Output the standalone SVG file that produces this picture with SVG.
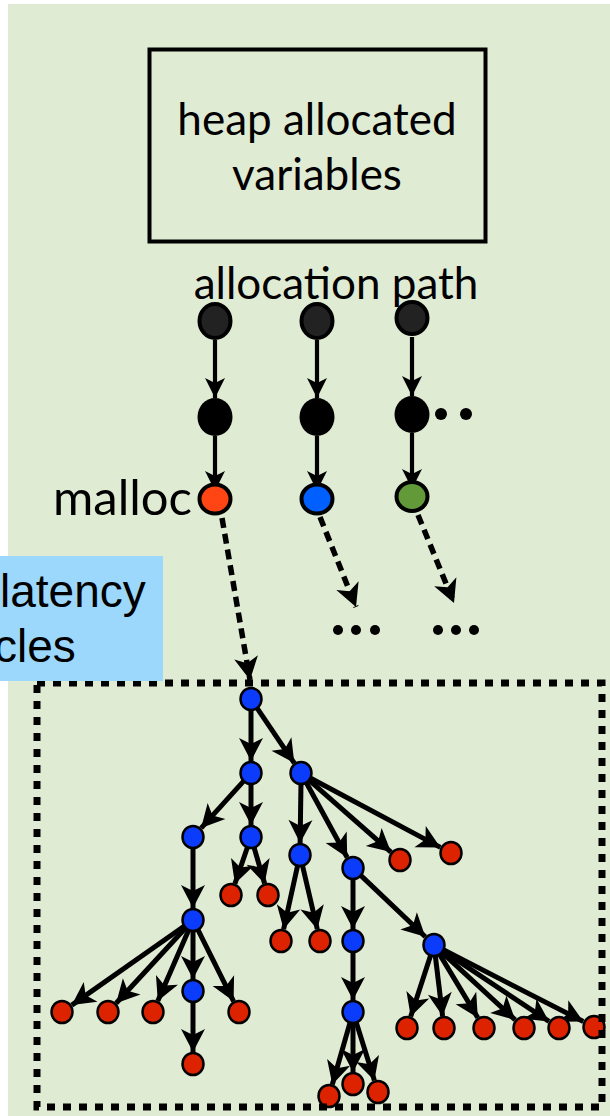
<svg xmlns="http://www.w3.org/2000/svg" width="610" height="1116" viewBox="0 0 610 1116">
<defs>
<style>
.t{font-family:"Lato","Liberation Sans",sans-serif;fill:#000}
.a{font-family:"Liberation Sans",Arial,sans-serif;fill:#000}
.e{stroke:#000;stroke-width:5;fill:none;marker-end:url(#ah)}
.p{stroke:#000;stroke-width:4.2;fill:none;marker-end:url(#ap)}
.d{stroke:#000;stroke-width:5.5;fill:none;stroke-dasharray:10 6;marker-end:url(#ah)}
.bn{fill:#0b3cfc;stroke:#000;stroke-width:2.5}
.rn{fill:#dd2200;stroke:#000;stroke-width:2.5}
</style>
<marker id="ah" markerUnits="userSpaceOnUse" viewBox="-24 -13 26 26" refX="0" refY="0" markerWidth="26" markerHeight="26" orient="auto">
<path d="M0,0 L-23,-12 L-17,0 L-23,12 Z" fill="#000"/>
</marker>
<marker id="ap" markerUnits="userSpaceOnUse" viewBox="-22 -11 24 22" refX="0" refY="0" markerWidth="24" markerHeight="22" orient="auto">
<path d="M0,0 L-20,-10 L-15,0 L-20,10 Z" fill="#000"/>
</marker>
</defs>
<rect x="8" y="4" width="602" height="1112" fill="#e0ebd4"/>

<g id="heap-box">
<rect x="149.5" y="49.5" width="336" height="192" fill="none" stroke="#000" stroke-width="4"/>
<text class="t" x="317" y="135" font-size="44" text-anchor="middle">heap allocated</text>
<text class="t" x="317" y="190" font-size="44" text-anchor="middle">variables</text>
</g>

<g id="label-allocation-path">
<text class="t" x="336" y="299" font-size="44" text-anchor="middle">allocation path</text>
</g>
<g id="label-malloc">
<text class="t" x="192" y="515" font-size="49" text-anchor="end">malloc</text>
</g>

<g id="connectors">
<line class="p" x1="215" y1="340" x2="215" y2="398"/>
<line class="p" x1="215" y1="436" x2="215" y2="491"/>
<line class="p" x1="317" y1="340" x2="317" y2="398"/>
<line class="p" x1="317" y1="436" x2="317" y2="491"/>
<line class="p" x1="412" y1="337" x2="412" y2="396"/>
<line class="p" x1="412" y1="433" x2="412" y2="489"/>
<line class="d" x1="222" y1="518" x2="250" y2="680"/>
<line class="d" x1="320" y1="517" x2="356" y2="607"/>
<line class="d" x1="418" y1="515" x2="454" y2="603"/>

<line class="e" x1="251" y1="709" x2="251" y2="761"/>
<line class="e" x1="256.6" y1="707.3" x2="294.3" y2="763.1"/>
<line class="e" x1="244.3" y1="780.4" x2="201.1" y2="828.1"/>
<line class="e" x1="251" y1="783" x2="251" y2="825"/>
<line class="e" x1="301" y1="783" x2="300.1" y2="843"/>
<line class="e" x1="305.8" y1="781.8" x2="347.2" y2="857.5"/>
<line class="e" x1="308.5" y1="779.6" x2="391" y2="852.1"/>
<line class="e" x1="309.8" y1="777.7" x2="440.4" y2="847.4"/>
<line class="e" x1="193" y1="847" x2="193" y2="908"/>
<line class="e" x1="247.7" y1="846.5" x2="234.9" y2="883.7"/>
<line class="e" x1="253.8" y1="846.6" x2="264.6" y2="883.5"/>
<line class="e" x1="297.8" y1="864.8" x2="283.6" y2="929.3"/>
<line class="e" x1="302.3" y1="864.7" x2="317.3" y2="929.3"/>
<line class="e" x1="353" y1="878" x2="353" y2="929"/>
<line class="e" x1="360.2" y1="874.9" x2="425.3" y2="936.7"/>
<line class="e" x1="353" y1="951" x2="353" y2="1000"/>
<line class="e" x1="184.8" y1="925.7" x2="71.8" y2="1005.1"/>
<line class="e" x1="186.2" y1="927.3" x2="116.1" y2="1003.2"/>
<line class="e" x1="189" y1="929.2" x2="157.8" y2="1001"/>
<line class="e" x1="193" y1="930" x2="193" y2="979"/>
<line class="e" x1="197.5" y1="928.9" x2="233.6" y2="1001.3"/>
<line class="e" x1="193" y1="1001" x2="193" y2="1052"/>
<line class="e" x1="350.3" y1="1021.6" x2="332.3" y2="1084.5"/>
<line class="e" x1="353" y1="1022" x2="353" y2="1072"/>
<line class="e" x1="356" y1="1021.6" x2="374.4" y2="1080.5"/>
<line class="e" x1="430.9" y1="954.5" x2="410.7" y2="1016.6"/>
<line class="e" x1="435.2" y1="954.9" x2="442.6" y2="1016.1"/>
<line class="e" x1="439.2" y1="953.6" x2="477.8" y2="1017.7"/>
<line class="e" x1="441.4" y1="951.8" x2="515.2" y2="1019.9"/>
<line class="e" x1="442.3" y1="950.5" x2="549" y2="1021.4"/>
<line class="e" x1="442.9" y1="949.6" x2="583.3" y2="1021.5"/>
</g>

<g id="path-nodes">
<ellipse cx="215" cy="321" rx="15.5" ry="17" fill="#222" stroke="#000" stroke-width="4"/>
<ellipse cx="317" cy="321" rx="15.5" ry="17" fill="#222" stroke="#000" stroke-width="4"/>
<ellipse cx="412" cy="318" rx="15.5" ry="16" fill="#222" stroke="#000" stroke-width="4"/>
<ellipse cx="215" cy="417" rx="17.5" ry="19" fill="#000"/>
<ellipse cx="317" cy="417" rx="17.5" ry="19" fill="#000"/>
<ellipse cx="412" cy="414.5" rx="17.5" ry="18.5" fill="#000"/>
<circle cx="441" cy="414" r="6" fill="#000"/>
<circle cx="466" cy="414" r="6" fill="#000"/>
<ellipse cx="215" cy="499" rx="15.5" ry="14.5" fill="#fe4513" stroke="#000" stroke-width="4"/>
<ellipse cx="317" cy="499" rx="15.5" ry="14.5" fill="#005fff" stroke="#000" stroke-width="4"/>
<ellipse cx="412" cy="496.5" rx="15.5" ry="14.5" fill="#629a3a" stroke="#000" stroke-width="4"/>
</g>

<g id="ellipsis-dots">
<circle cx="338" cy="630" r="5" fill="#000"/>
<circle cx="356" cy="630" r="5" fill="#000"/>
<circle cx="375" cy="630" r="5" fill="#000"/>
<circle cx="438" cy="630" r="5" fill="#000"/>
<circle cx="456" cy="630" r="5" fill="#000"/>
<circle cx="474" cy="630" r="5" fill="#000"/>
</g>

<g id="tree-nodes">
<ellipse class="bn" cx="251" cy="699" rx="10.5" ry="11"/>
<ellipse class="bn" cx="251" cy="773" rx="10.5" ry="11"/>
<ellipse class="bn" cx="301" cy="773" rx="10.5" ry="11"/>
<ellipse class="bn" cx="193" cy="837" rx="10.5" ry="11"/>
<ellipse class="bn" cx="251" cy="837" rx="10.5" ry="11"/>
<ellipse class="bn" cx="300" cy="855" rx="10.5" ry="11"/>
<ellipse class="bn" cx="353" cy="868" rx="10.5" ry="11"/>
<ellipse class="rn" cx="400" cy="860" rx="10.5" ry="11"/>
<ellipse class="rn" cx="451" cy="853" rx="10.5" ry="11"/>
<ellipse class="rn" cx="231" cy="895" rx="10.5" ry="11"/>
<ellipse class="rn" cx="268" cy="895" rx="10.5" ry="11"/>
<ellipse class="bn" cx="193" cy="920" rx="10.5" ry="11"/>
<ellipse class="rn" cx="281" cy="941" rx="10.5" ry="11"/>
<ellipse class="rn" cx="320" cy="941" rx="10.5" ry="11"/>
<ellipse class="bn" cx="353" cy="941" rx="10.5" ry="11"/>
<ellipse class="bn" cx="434" cy="945" rx="10.5" ry="11"/>
<ellipse class="rn" cx="62" cy="1012" rx="10.5" ry="11"/>
<ellipse class="rn" cx="108" cy="1012" rx="10.5" ry="11"/>
<ellipse class="rn" cx="153" cy="1012" rx="10.5" ry="11"/>
<ellipse class="bn" cx="193" cy="991" rx="10.5" ry="11"/>
<ellipse class="rn" cx="239" cy="1012" rx="10.5" ry="11"/>
<ellipse class="rn" cx="193" cy="1064" rx="10.5" ry="11"/>
<ellipse class="bn" cx="353" cy="1012" rx="10.5" ry="11"/>
<ellipse class="rn" cx="329" cy="1096" rx="10.5" ry="11"/>
<ellipse class="rn" cx="353" cy="1084" rx="10.5" ry="11"/>
<ellipse class="rn" cx="378" cy="1092" rx="10.5" ry="11"/>
<ellipse class="rn" cx="407" cy="1028" rx="10.5" ry="11"/>
<ellipse class="rn" cx="444" cy="1028" rx="10.5" ry="11"/>
<ellipse class="rn" cx="484" cy="1028" rx="10.5" ry="11"/>
<ellipse class="rn" cx="524" cy="1028" rx="10.5" ry="11"/>
<ellipse class="rn" cx="559" cy="1028" rx="10.5" ry="11"/>
<ellipse class="rn" cx="594" cy="1027" rx="10.5" ry="11"/>
</g>

<g id="dotted-frame">
<rect x="37" y="683" width="565" height="424" fill="none" stroke="#000" stroke-width="7" stroke-dasharray="8 8"/>
</g>

<g id="latency-label">
<rect x="0" y="556" width="163" height="125" fill="#9cd8fc"/>
<text class="a" x="0" y="607" font-size="46">latency</text>
<text class="a" x="-6" y="662" font-size="46">cles</text>
</g>
</svg>
